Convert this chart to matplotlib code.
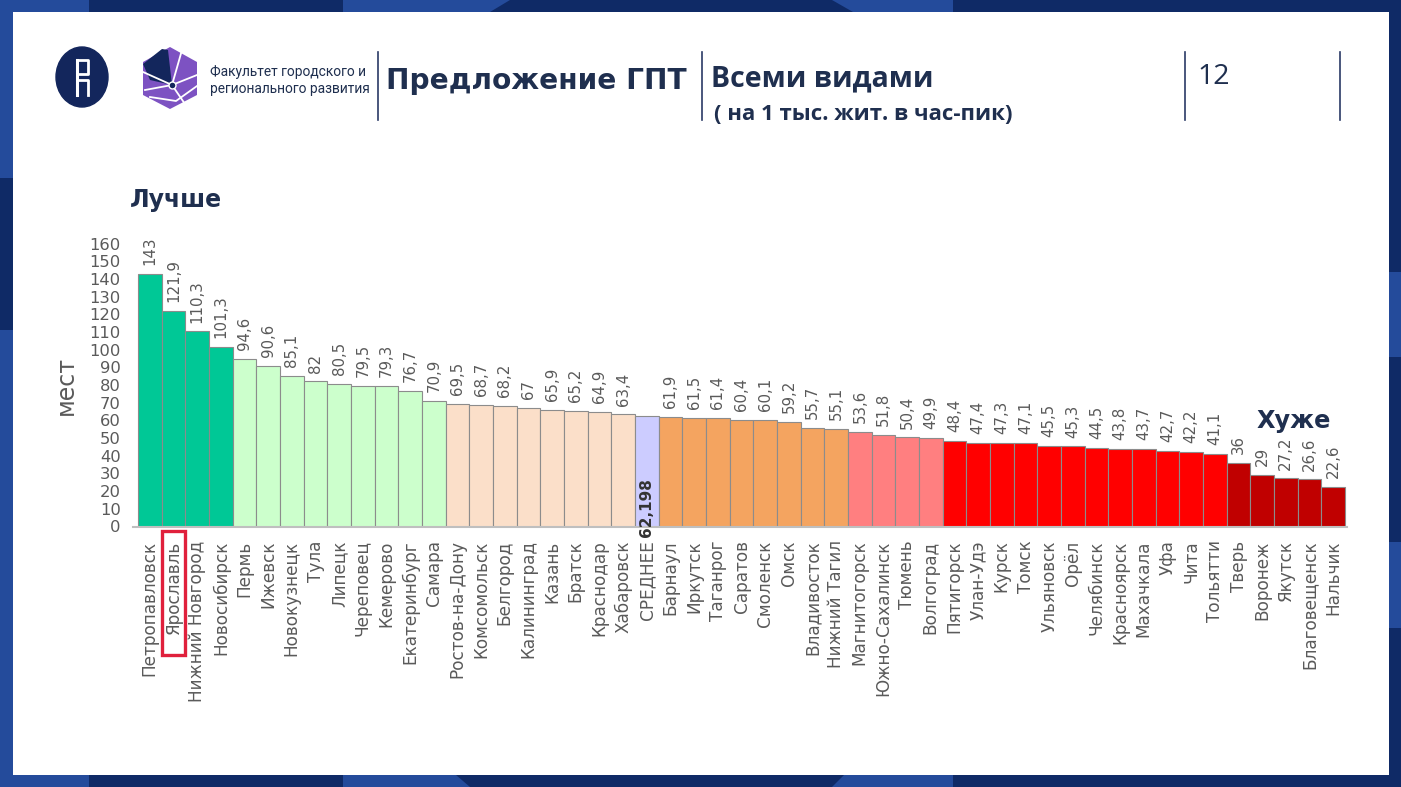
import matplotlib
matplotlib.use("Agg")
import matplotlib.pyplot as plt
import matplotlib.transforms as mtransforms
from matplotlib.patches import Rectangle, Polygon, Ellipse

cities = [
    "Петропавловск", "Ярославль", "Нижний Новгород", "Новосибирск", "Пермь",
    "Ижевск", "Новокузнецк", "Тула", "Липецк", "Череповец", "Кемерово",
    "Екатеринбург", "Самара", "Ростов-на-Дону", "Комсомольск", "Белгород",
    "Калининград", "Казань", "Братск", "Краснодар", "Хабаровск", "СРЕДНЕЕ",
    "Барнаул", "Иркутск", "Таганрог", "Саратов", "Смоленск", "Омск",
    "Владивосток", "Нижний Тагил", "Магнитогорск", "Южно-Сахалинск", "Тюмень",
    "Волгоград", "Пятигорск", "Улан-Удэ", "Курск", "Томск", "Ульяновск",
    "Орёл", "Челябинск", "Красноярск", "Махачкала", "Уфа", "Чита", "Тольятти",
    "Тверь", "Воронеж", "Якутск", "Благовещенск", "Нальчик",
]
values = [
    143, 121.9, 110.3, 101.3, 94.6, 90.6, 85.1, 82, 80.5, 79.5, 79.3, 76.7,
    70.9, 69.5, 68.7, 68.2, 67, 65.9, 65.2, 64.9, 63.4, 62.198, 61.9, 61.5,
    61.4, 60.4, 60.1, 59.2, 55.7, 55.1, 53.6, 51.8, 50.4, 49.9, 48.4, 47.4,
    47.3, 47.1, 45.5, 45.3, 44.5, 43.8, 43.7, 42.7, 42.2, 41.1, 36, 29, 27.2,
    26.6, 22.6,
]
mean_name = "СРЕДНЕЕ"
highlight_name = "Ярославль"
group_sizes = [4, 9, 8, 1, 8, 4, 12, 5]
y_ticks = list(range(0, 161, 10))

# colours of the groups, best to worst
group_colors = ["#00c896", "#ccffcc", "#fbdfc9", "#ccccff",
                "#f4a460", "#ff7f80", "#ff0000", "#c00000"]
bar_colors = [c for c, n in zip(group_colors, group_sizes) for _ in range(n)]

NAVY = "#0f2a66"
LIGHT = "#244b9b"
TEXT = "#1f2f4f"
GREY = "#5a5a5a"

W, H = 1401, 787
fig = plt.figure(figsize=(W / 100, H / 100), dpi=100)

# ---- background slide in pixel coordinates
bg = fig.add_axes([0, 0, 1, 1], zorder=0)
bg.set_xlim(0, W)
bg.set_ylim(H, 0)
bg.axis("off")
bg.add_patch(Rectangle((0, 0), W, H, color=NAVY))
for poly in [
    [(0, 0), (89, 0), (89, 12), (0, 12)],
    [(343, 0), (510, 0), (490, 12), (343, 12)],
    [(832, 0), (953, 0), (953, 12), (853, 12)],
    [(0, 775), (89, 775), (89, H), (0, H)],
    [(343, 775), (456, 775), (470, H), (343, H)],
    [(844, 775), (953, 775), (953, H), (832, H)],
    [(0, 0), (13, 0), (13, 178), (0, 178)],
    [(0, 330), (13, 330), (13, H), (0, H)],
    [(1389, 272), (W, 272), (W, 357), (1389, 357)],
    [(1389, 542), (W, 542), (W, 628), (1389, 628)],
]:
    bg.add_patch(Polygon(poly, closed=True, color=LIGHT, lw=0))
bg.add_patch(Rectangle((13, 12), 1376, 763, color="white", lw=0))

# HSE logo
bg.add_patch(Ellipse((82, 77), 52, 60, color="#13265c"))
bg.plot([77, 77], [60, 95], color="white", lw=2.2)
bg.plot([77, 88, 88, 77], [60, 60, 74, 74], color="white", lw=2.0)
bg.plot([77, 88, 88], [80, 80, 95], color="white", lw=2.0)

# faculty logo
hexagon = [(170, 47), (197, 62), (197, 95), (170, 109), (143, 95), (143, 62)]
bg.add_patch(Polygon(hexagon, closed=True, color="#7d52c2", lw=0))
bg.add_patch(Polygon([(143, 64), (162, 49), (168, 50), (172, 85), (150, 80)],
                     closed=True, color="#13265c", lw=0))
for x2, y2 in [(182, 50), (197, 75), (185, 104), (145, 90), (143, 72)]:
    bg.plot([172, x2], [85, y2], color="white", lw=1.3)
bg.plot([150, 176, 197], [97, 101, 86], color="white", lw=1.3)
bg.plot([172], [85], "o", color="#13265c", ms=5, mec="white", mew=1)

bg.text(210, 72, "Факультет городского и", fontsize=9.9, color=TEXT,
        va="center", family="Roboto")
bg.text(210, 89, "регионального развития", fontsize=9.9, color=TEXT,
        va="center", family="Roboto")
for x in (378, 702, 1185, 1340):
    bg.plot([x, x], [52, 120], color="#2a3a66", lw=1.2)
bg.text(386, 81, "Предложение ГПТ", fontsize=20.2, fontweight="bold",
        color=TEXT, va="center", family="DejaVu Sans")
bg.text(711, 79, "Всеми видами", fontsize=20.5, fontweight="bold",
        color=TEXT, va="center", family="Open Sans")
bg.text(714, 114, "( на 1 тыс. жит. в час-пик)", fontsize=16, fontweight="bold",
        color=TEXT, va="center", family="Open Sans")
bg.text(1197, 77, "12", fontsize=20.5, color=TEXT, va="center", family="Open Sans")
bg.text(130, 200, "Лучше", fontsize=17, fontweight="bold", color=TEXT,
        va="center", family="DejaVu Sans")
bg.text(1257, 421, "Хуже", fontsize=17.3, fontweight="bold", color=TEXT,
        va="center", family="DejaVu Sans")

# ---- chart
x0, x1 = 133.3, 1347.4
y0, y1 = 526.5, 243.5
ax = fig.add_axes([x0 / W, (H - y0) / H, (x1 - x0) / W, (y0 - y1) / H], zorder=1)
ax.set_facecolor("none")
pos = list(range(len(cities)))
ax.bar(pos, values, width=1.0, color=bar_colors, edgecolor="#8c8c8c", linewidth=0.8)
ax.set_xlim(-0.7, len(cities) - 0.4)
ax.set_ylim(0, 160)
ax.set_yticks(y_ticks)
ax.set_xticks(pos)
ax.set_xticklabels(cities, rotation=90)
ax.tick_params(axis="y", length=0, pad=9, labelsize=11.8, labelcolor=GREY)
ax.tick_params(axis="x", length=0, pad=10, labelsize=12.2, labelcolor=GREY)
for s in ("left", "right", "top"):
    ax.spines[s].set_visible(False)
ax.spines["bottom"].set_color("#bfbfbf")
ax.spines["bottom"].set_linewidth(1.5)
ax.set_ylabel("мест", fontsize=17, color=GREY, labelpad=8)

for i, (name, v) in enumerate(zip(cities, values)):
    label = f"{v:g}".replace(".", ",")
    if name == mean_name:
        ax.text(i, -6, label, rotation=90, ha="center", va="bottom",
                fontsize=11, fontweight="bold", color="#333333", clip_on=False)
    else:
        ax.text(i, v + 5, label, rotation=90, ha="center", va="bottom",
                fontsize=10.8, color=GREY, clip_on=False)

# red frame around the highlighted city
hi = cities.index(highlight_name)
trans = mtransforms.blended_transform_factory(ax.transData, ax.transAxes)
ax.add_patch(Rectangle((hi - 0.5, -0.455), 1.0, 0.44, transform=trans,
                       fill=False, edgecolor="#e0203c", lw=2.4, clip_on=False))

fig.savefig("out.png", dpi=100)
